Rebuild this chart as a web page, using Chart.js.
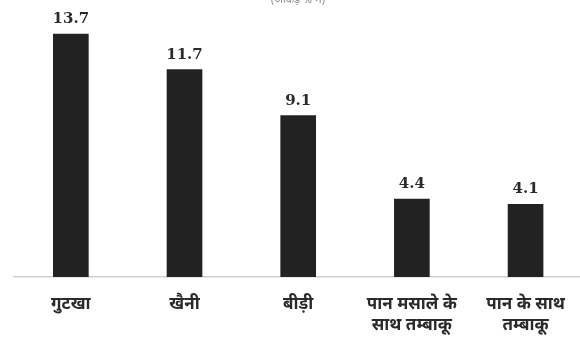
<!DOCTYPE html>
<html>
<head>
<meta charset="utf-8">
<script src="https://cdn.jsdelivr.net/npm/chart.js@4"></script>
<style>
  html, body { margin: 0; padding: 0; background: #fff; }
  #wrap { width: 580px; height: 341px; position: relative; }
</style>
</head>
<body>
<div id="wrap"><canvas id="tobaccoChart"></canvas></div>
<script>
// tobacco use by type (figures in %)
const categories = [
    "गुटखा",
    "खैनी",
    "बीड़ी",
    ["पान मसाले के", "साथ तम्बाकू"],
    ["पान के साथ", "तम्बाकू"]
];
const values = [13.7, 11.7, 9.1, 4.4, 4.1];
const subtitle = "(आंकड़े % में)";

const hindiFont = "'Noto Sans Devanagari', 'Lohit Devanagari', 'Noto Sans', sans-serif";

// numbers on top of each bar + the cut-off subtitle at the very top
const valueLabels = {
    id: "valueLabels",
    afterDatasetsDraw(chart) {
        const ctx = chart.ctx;
        const meta = chart.getDatasetMeta(0);
        ctx.save();
        ctx.fillStyle = "#2b2b2b";
        ctx.font = "bold 15px 'DejaVu Serif', serif";
        ctx.textAlign = "center";
        ctx.textBaseline = "alphabetic";
        meta.data.forEach((bar, i) => {
            ctx.fillText(values[i].toFixed(1), bar.x, bar.y - 11);
        });
        ctx.fillStyle = "#8a8a8a";
        ctx.font = "11px " + hindiFont;
        ctx.textBaseline = "bottom";
        ctx.fillText(subtitle, 298, 6);
        ctx.restore();
    }
};

document.addEventListener("DOMContentLoaded", () => {
    const ctx = document.getElementById("tobaccoChart").getContext("2d");
    new Chart(ctx, {
        type: "bar",
        data: {
            datasets: [{
                data: values.map((v, i) => ({ x: i, y: v })),
                backgroundColor: "#222222",
                borderWidth: 0,
                barThickness: 35
            }]
        },
        options: {
            responsive: true,
            maintainAspectRatio: false,
            animation: false,
            layout: { padding: { top: 11, left: 14, right: 0, bottom: 0 } },
            plugins: { legend: { display: false }, tooltip: { enabled: false } },
            scales: {
                x: {
                    type: "linear",
                    offset: false,
                    min: -0.5,
                    max: 4.479,
                    grid: { display: false, drawTicks: false },
                    border: { display: true, color: "#d0d0d0", width: 1.5 },
                    afterBuildTicks: scale => {
                        scale.ticks = categories.map((c, i) => ({ value: i }));
                    },
                    afterFit: scale => {
                        scale.height = 64;
                        scale.paddingLeft = 0;
                        scale.paddingRight = 0;
                    },
                    ticks: {
                        autoSkip: false,
                        maxRotation: 0,
                        padding: 19,
                        color: "#2a2a2a",
                        font: { family: hindiFont, size: 17, weight: "bold", lineHeight: 1.2 },
                        callback: v => categories[v]
                    }
                },
                y: {
                    display: false,
                    min: 0,
                    max: 15
                }
            }
        },
        plugins: [valueLabels]
    });
});
</script>
</body>
</html>
